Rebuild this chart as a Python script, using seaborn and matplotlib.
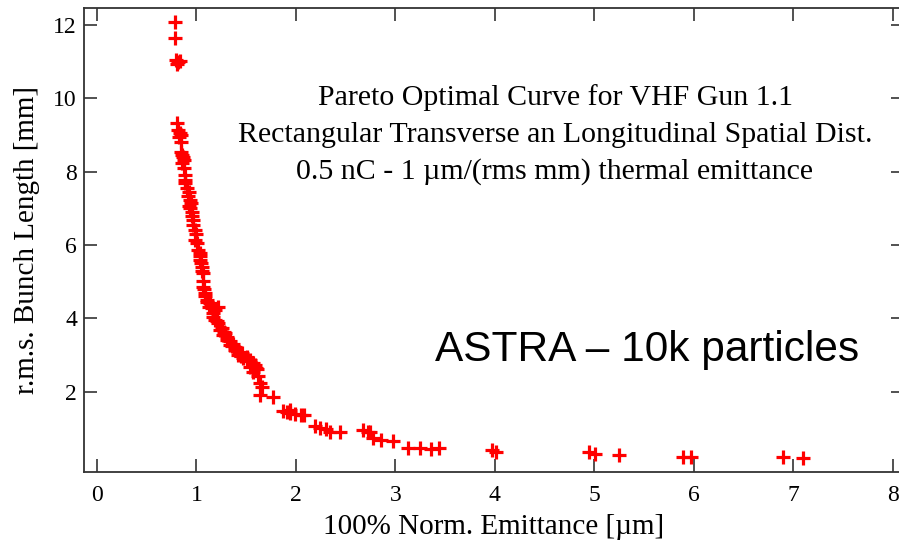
import numpy as np
import pandas as pd
import matplotlib
matplotlib.use("Agg")
import matplotlib.pyplot as plt
import seaborn as sns

# Pareto front points
emittance = [
    0.784, 0.784, 0.794, 0.814, 0.834, 0.804, 0.807, 0.814, 0.834, 0.844,
    0.824, 0.841, 0.844, 0.854, 0.864, 0.874, 0.884, 0.884, 0.901, 0.915,
    0.935, 0.945, 0.925, 0.952, 0.968, 0.985, 0.985, 1.018, 1.035, 1.035,
    1.052, 1.065, 1.068, 1.068, 1.085, 1.102, 1.136, 1.153, 1.169, 1.186,
    1.219, 1.236, 1.269, 1.304, 1.337, 1.387, 1.420, 1.470, 1.505, 1.538,
    1.571, 1.621, 1.638, 1.655, 1.638, 1.772, 1.869, 1.940, 1.990, 2.080,
    2.191, 2.241, 2.342, 2.442, 2.676, 2.744, 2.777, 2.851, 2.972, 3.129,
    3.246, 3.353, 3.440, 3.967, 4.007, 4.948, 5.005, 5.246, 5.886, 5.970,
    6.898, 7.098,
    # denser part of the band
    1.105, 1.145, 1.185, 1.165, 1.205, 1.255, 1.275, 1.305, 1.335, 1.365,
    1.385, 1.425, 1.455, 1.505, 1.535, 1.565, 1.585, 1.605, 1.045, 1.055,
    1.035, 1.005, 0.995, 0.965, 0.955, 0.935, 0.925, 0.885, 0.875, 0.855,
    1.075, 1.085, 1.125, 1.915, 1.945, 2.055, 2.305, 2.725,
    1.215, 1.285, 1.355, 1.445, 1.595,
]
bunch_length = [
    12.07, 11.64, 11.05, 10.99, 11.02, 10.94, 9.32, 9.14, 9.06, 9.00,
    8.95, 8.82, 8.54, 8.46, 8.40, 8.32, 7.91, 7.78, 7.55, 7.34,
    7.23, 7.15, 7.07, 6.91, 6.69, 6.41, 6.14, 5.87, 5.69, 5.60,
    5.41, 5.24, 5.01, 4.87, 4.69, 4.51, 4.42, 4.28, 4.14, 3.96,
    3.87, 3.69, 3.55, 3.42, 3.28, 3.15, 3.01, 2.92, 2.83, 2.69,
    2.55, 2.42, 2.24, 2.14, 1.92, 1.86, 1.48, 1.43, 1.40, 1.37,
    1.07, 1.02, 0.91, 0.91, 0.965, 0.92, 0.74, 0.69, 0.66, 0.47,
    0.47, 0.45, 0.47, 0.42, 0.36, 0.36, 0.31, 0.28, 0.24, 0.24,
    0.24, 0.19,
    4.45, 4.35, 4.22, 4.05, 3.92, 3.75, 3.62, 3.50, 3.38, 3.30,
    3.22, 3.10, 3.05, 2.95, 2.88, 2.78, 2.72, 2.62, 5.50, 5.30,
    5.78, 6.05, 6.30, 6.55, 6.80, 7.00, 7.45, 7.70, 8.10, 8.25,
    4.80, 4.60, 4.32, 1.45, 1.50, 1.38, 0.98, 0.92,
    4.30, 3.60, 3.25, 2.98, 2.66,
]

x_ticks = [0, 1, 2, 3, 4, 5, 6, 7, 8]
y_ticks = [2, 4, 6, 8, 10, 12]

title_lines = [
    "Pareto Optimal Curve for VHF Gun 1.1",
    "Rectangular Transverse an Longitudinal Spatial Dist.",
    "0.5 nC - 1 \u00b5m/(rms mm) thermal emittance",
]

df = pd.DataFrame({"emit": emittance, "blen": bunch_length})

sns.set_style("ticks")
plt.rcParams["font.family"] = ["Liberation Serif", "DejaVu Serif"]
plt.rcParams["text.color"] = "black"
plt.rcParams["axes.labelcolor"] = "black"

fig = plt.figure(figsize=(8.99, 5.5), dpi=100)
ax = fig.add_axes([0.0934, 0.1413, 0.912, 0.8442])

sns.scatterplot(data=df, x="emit", y="blen", marker="+", color="red",
                s=100, linewidth=2.3, ax=ax, legend=False)

ax.set_xlim(-0.13, 8.11)
ax.set_ylim(-0.19, 12.46)
ax.set_xticks(x_ticks)
ax.set_yticks(y_ticks)
ax.tick_params(direction="in", length=9.5, width=1.1, colors="#222222",
               labelsize=17, top=True, right=True, labelcolor="black")
ax.tick_params(axis="x", pad=9)
ax.tick_params(axis="y", pad=5)
for sp in ax.spines.values():
    sp.set_linewidth(1.3)
    sp.set_color("#333333")

ax.set_xlabel("100% Norm. Emittance [\u00b5m]", fontsize=21, labelpad=6)
ax.set_ylabel("r.m.s. Bunch Length [mm]", fontsize=21, labelpad=10)

for i, line in enumerate(title_lines):
    fig.text(555 / 899, 1 - (98 + 37 * i) / 550, line, fontsize=21.5,
             ha="center", va="center")

fig.text(647 / 899, 1 - 350 / 550, "ASTRA \u2013 10k particles",
         fontsize=30.5, family=["Liberation Sans", "DejaVu Sans"],
         ha="center", va="center")

plt.savefig("out.png", dpi=100)
plt.close()
